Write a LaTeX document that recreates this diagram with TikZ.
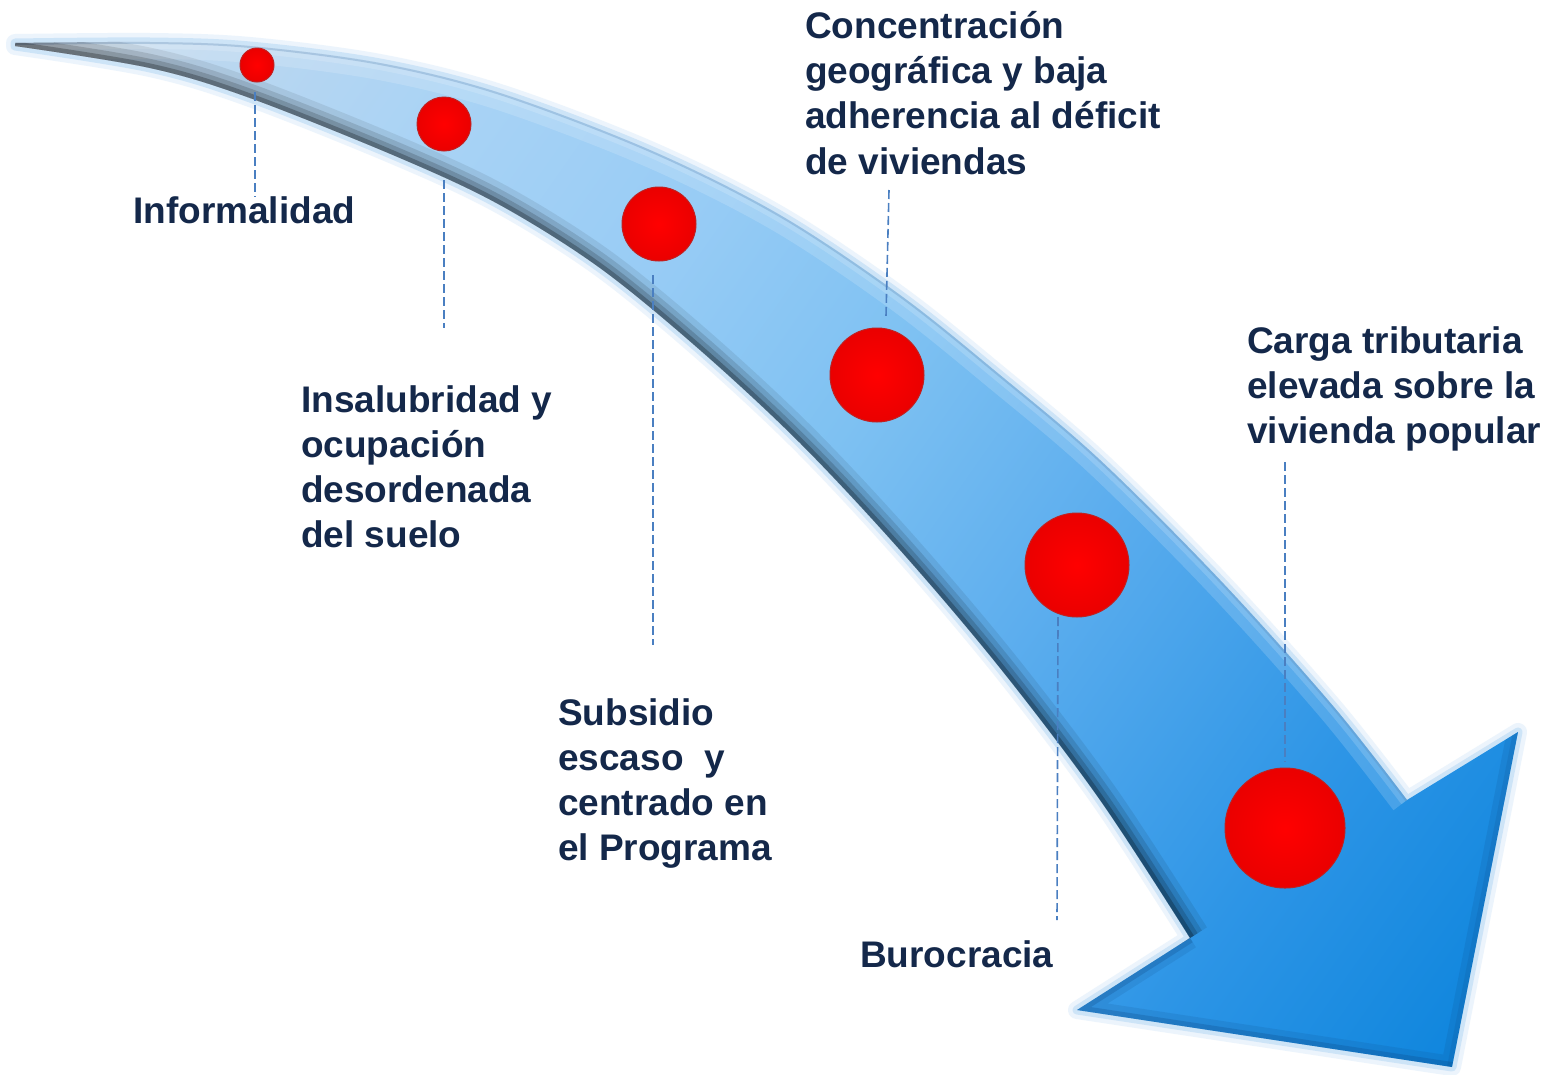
\documentclass[tikz,border=0pt]{standalone}
\usepackage{fontspec}
\setmainfont{Liberation Sans}
\usetikzlibrary{calc}
\definecolor{txt}{HTML}{14284A}
\definecolor{lead}{HTML}{4A7FC1}
\definecolor{a0}{HTML}{C8DAEC}
\definecolor{a1}{HTML}{A9D3F5}
\definecolor{a2}{HTML}{98CCF5}
\definecolor{a3}{HTML}{7EC1F2}
\definecolor{a4}{HTML}{5DAEEE}
\definecolor{a5}{HTML}{2D95E6}
\definecolor{a6}{HTML}{0C84DC}
\definecolor{glow}{HTML}{B5D7F4}
\definecolor{shade}{HTML}{1A3A60}
\definecolor{bevel}{HTML}{0A3E78}
\definecolor{rimline}{HTML}{5A87B5}
\definecolor{dotin}{HTML}{FF0000}
\definecolor{dotout}{HTML}{EA0000}
\definecolor{dotrim}{HTML}{C02020}
\pgfdeclarehorizontalshading{arrowshade}{100bp}{color(0bp)=(a0); color(29bp)=(a0); color(38bp)=(a1); color(44bp)=(a2); color(50bp)=(a3); color(56bp)=(a4); color(64bp)=(a5); color(71bp)=(a6); color(100bp)=(a6)}
\def\upperedge{plot[smooth,tension=0.55] coordinates {(15,43) (150,42) (250,46) (380,63) (500,93) (650,150) (780,215) (900,295) (1000,375) (1100,460) (1220,580) (1333,706) (1407,800)}}
\def\loweredge{plot[smooth,tension=0.55] coordinates {(1190,938) (1100,800) (1000,668) (900,550) (800,443) (700,350) (600,268) (500,205) (400,158) (250,98) (150,68) (15,46)}}
\def\arrowshape{plot[smooth,tension=0.55] coordinates {(15,43) (150,42) (250,46) (380,63) (500,93) (650,150) (780,215) (900,295) (1000,375) (1100,460) (1220,580) (1333,706) (1407,800)} -- (1518,732) -- (1452,1067) -- (1077,1010) -- (1190,938) -- plot[smooth,tension=0.55] coordinates {(1190,938) (1100,800) (1000,668) (900,550) (800,443) (700,350) (600,268) (500,205) (400,158) (250,98) (150,68) (15,46)} -- cycle}
\begin{document}
\begin{tikzpicture}[x=1pt,y=-1pt,
  lbl/.style={font=\fontsize{37pt}{45.3pt}\selectfont\bfseries, text=txt, inner sep=0pt, align=left, anchor=north west},
  dot/.style={circle, inner sep=0pt, draw=dotrim, line width=1pt, shading=radial, inner color=dotin, outer color=dotout},
  leader/.style={draw=lead, line width=1.6pt, dash pattern=on 9pt off 4pt}]
\useasboundingbox[fill=white] (0,0) rectangle (1547,1074);
% glow
\draw[glow, line width=18pt, opacity=0.25, line join=round] \arrowshape;
\draw[glow, line width=9pt, opacity=0.55, line join=round] \arrowshape;
% body
\begin{scope}
  \clip \arrowshape;
  \begin{scope}[transform canvas={rotate around={-35:(760,550)}}]
    \shade[shading=arrowshade] (-300,-600) rectangle (1820,1700);
  \end{scope}
  \draw[white, line width=34pt, opacity=0.16] \upperedge;
  \draw[white, line width=14pt, opacity=0.16] \upperedge;
  \draw[rimline, line width=4pt, opacity=0.3] \upperedge;
  \draw[shade, line width=40pt, opacity=0.08] \loweredge;
  \draw[shade, line width=28pt, opacity=0.12] \loweredge;
  \draw[shade, line width=18pt, opacity=0.16] \loweredge;
  \draw[shade, line width=9pt, opacity=0.25] \loweredge;
  \draw[bevel, line width=22pt, opacity=0.12, line join=round] (1190,938) -- (1077,1010) -- (1452,1067) -- (1518,732);
  \draw[bevel, line width=10pt, opacity=0.22, line join=round] (1190,938) -- (1077,1010) -- (1452,1067);
  \draw[bevel, line width=10pt, opacity=0.12, line join=round] (1452,1067) -- (1518,732);
\end{scope}
% dots
\node[dot, minimum size=34pt] (d1) at (257,65) {};
\node[dot, minimum size=54pt] (d2) at (444,124) {};
\node[dot, minimum size=74pt] (d3) at (659,224) {};
\node[dot, minimum size=94pt] (d4) at (877,375) {};
\node[dot, minimum size=104pt] (d5) at (1077,565) {};
\node[dot, minimum size=120pt] (d6) at (1285,828) {};
% labels
\node[lbl] (t1) at (133,196) {Informalidad};
\node[lbl] (t2) at (301,385) {Insalubridad y\\ocupación\\desordenada\\del suelo};
\node[lbl] (t3) at (558,698) {Subsidio\\escaso~\ y\\centrado en\\el Programa};
\node[lbl] (t4) at (805,11) {Concentración\\geográfica y baja\\adherencia al déficit\\de viviendas};
\node[lbl] (t5) at (860,940) {Burocracia};
\node[lbl] (t6) at (1247,326) {Carga tributaria\\elevada sobre la\\vivienda popular};
% leader lines
\coordinate (c1a) at (255,92);  \coordinate (c1b) at (255,197);
\coordinate (c2a) at (444,180); \coordinate (c2b) at (444,328);
\coordinate (c3a) at (653,275); \coordinate (c3b) at (653,645);
\coordinate (c4a) at (889,190); \coordinate (c4b) at (886,316);
\coordinate (c5a) at (1058,617); \coordinate (c5b) at (1057,920);
\coordinate (c6a) at (1285,462); \coordinate (c6b) at (1285,762);
\draw[leader] (c1a) -- (c1b);
\draw[leader] (c2a) -- (c2b);
\draw[leader] (c3a) -- (c3b);
\draw[leader] (c4a) -- (c4b);
\draw[leader] (c5a) -- (c5b);
\draw[leader] (c6a) -- (c6b);
\end{tikzpicture}
\end{document}
